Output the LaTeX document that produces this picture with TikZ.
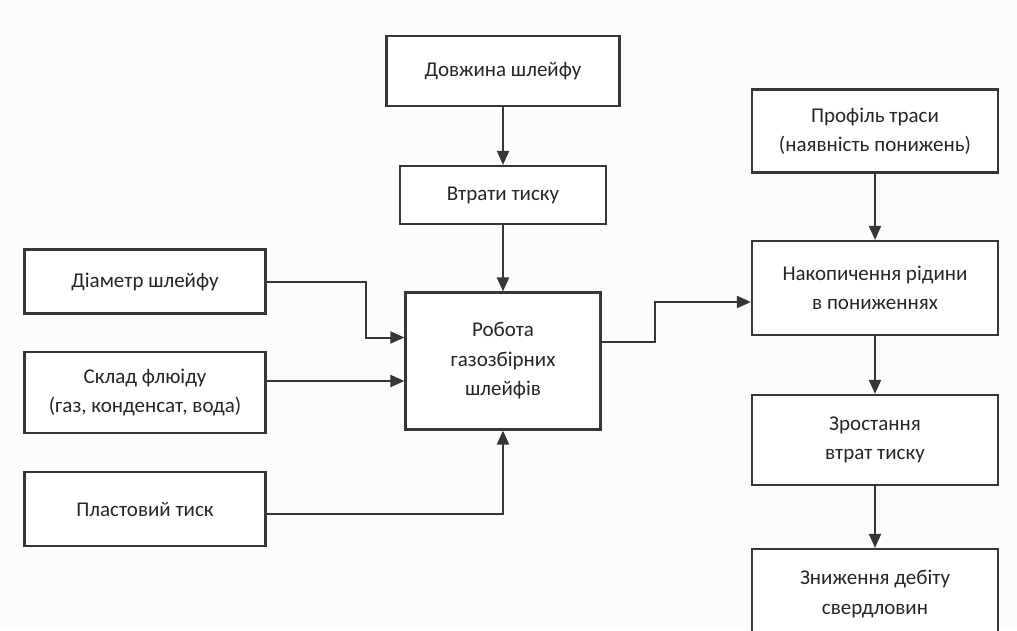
\documentclass[tikz,border=0pt]{standalone}
\usepackage{fontspec}
\setmainfont{Carlito}
\usetikzlibrary{arrows.meta}
\definecolor{ln}{HTML}{363636}
\definecolor{tx}{HTML}{262626}
\definecolor{bg}{HTML}{FCFCFC}
\tikzset{
  box/.style={draw=ln, line width=2.2pt, fill=white, text=tx, align=center, inner sep=0pt,
    font=\fontsize{21}{29.5}\selectfont},
  conn/.style={draw=ln, line width=2pt, -{Triangle[length=14pt,width=12pt]}},
}
\begin{document}
\begin{tikzpicture}[x=1pt,y=-1pt]
\useasboundingbox (0,0) rectangle (1017,630);
\clip (0,0) rectangle (1017,630);
\fill[bg] (0,0) rectangle (1017,630);
% boxes
\node[box, minimum width=233pt, minimum height=70pt] (dov) at (503,71) {Довжина шлейфу};
\node[box, minimum width=206pt, minimum height=58pt] (vtr) at (503,195) {Втрати тиску};
\node[box, minimum width=241pt, minimum height=64pt] (dia) at (145,281.5) {Діаметр шлейфу};
\node[box, minimum width=241pt, minimum height=81pt] (skl) at (145,392.5) {Склад флюіду\\(газ, конденсат, вода)};
\node[box, minimum width=241pt, minimum height=74pt] (pla) at (145,509) {Пластовий тиск};
\node[box, minimum width=195pt, minimum height=137pt] (rob) at (503,361) {Робота\\газозбірних\\шлейфів};
\node[box, minimum width=246pt, minimum height=83pt] (pro) at (875,131) {Профіль траси\\(наявність понижень)};
\node[box, minimum width=246pt, minimum height=94pt] (nak) at (875,288) {Накопичення рідини\\в пониженнях};
\node[box, minimum width=246pt, minimum height=90pt] (zro) at (875,440) {Зростання\\втрат тиску};
\node[box, minimum width=246pt, minimum height=90pt] (zny) at (875,594) {Зниження дебіту\\свердловин};
% connectors
\draw[conn] (dov) -- (vtr);
\draw[conn] (vtr) -- (rob);
\draw[conn] (dia.east |- 0,282) -| (366,337.5) -- (rob.west |- 0,337.5);
\draw[conn] (skl.east |- 0,381) -- (rob.west |- 0,381);
\draw[conn] (pla.east |- 0,514) -| (rob.south);
\draw[conn] (rob.east |- 0,342) -| (655,302) -- (nak.west |- 0,302);
\draw[conn] (pro) -- (nak);
\draw[conn] (nak) -- (zro);
\draw[conn] (zro) -- (zny);
\end{tikzpicture}
\end{document}
